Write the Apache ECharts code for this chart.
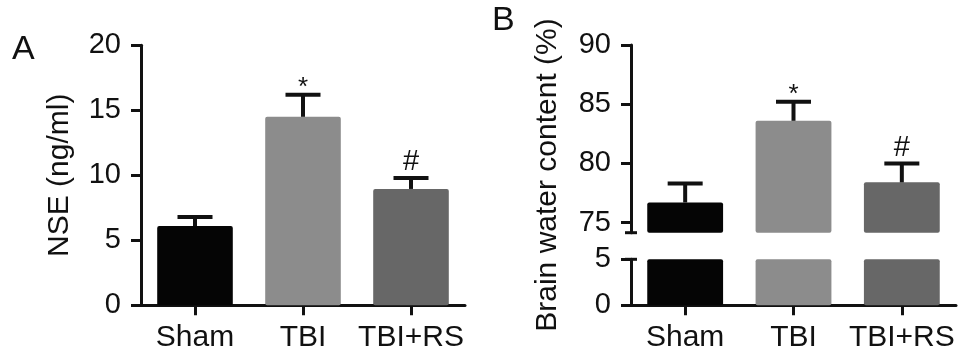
<!DOCTYPE html>
<html>
<head>
<meta charset="utf-8">
<script src="https://cdn.jsdelivr.net/npm/echarts@6/dist/echarts.min.js"></script>
<style>
html,body{margin:0;padding:0;background:#fff;}
#chart{width:969px;height:359px;}
</style>
</head>
<body>
<div id="chart"></div>
<script>
// ---- data ----
const categories = ['Sham', 'TBI', 'TBI+RS'];
const nseValues = [6.1, 14.5, 8.95];
const nseErrors = [0.7, 1.7, 0.85];
const nseMarks = ['', '*', '#'];
const nseTicks = [0, 5, 10, 15, 20];

const waterValues = [76.7, 83.6, 78.4];
const waterErrors = [1.6, 1.6, 1.6];
const waterMarks = ['', '*', '#'];
const waterUpperTicks = [75, 80, 85, 90];
const waterLowerTicks = [0, 5];
const waterUpperMin = 74.15;
const waterLowerMax = 5;

const barColors = ['#050505', '#8c8c8c', '#676767'];

// ---- style ----
const FONT = '"Liberation Sans", Arial, Helvetica, sans-serif';
const INK = '#111';
const AXW = 3;

function errorRenderer(marks) {
  return function (params, api) {
    const i = api.value(0), v = api.value(1), e = api.value(2);
    const base = api.coord([i, v]);
    const top = api.coord([i, v + e]);
    const half = 17.5;
    const mark = marks[params.dataIndex];
    const children = [
      { type: 'line', shape: { x1: top[0], y1: base[1], x2: top[0], y2: top[1] }, style: { stroke: INK, lineWidth: 4 } },
      { type: 'line', shape: { x1: top[0] - half, y1: top[1], x2: top[0] + half, y2: top[1] }, style: { stroke: INK, lineWidth: 4 } }
    ];
    if (mark) {
      const isStar = mark === '*';
      children.push({
        type: 'text',
        style: {
          text: mark, x: top[0], y: top[1] + (isStar ? 6 : -1),
          align: 'center', verticalAlign: 'bottom',
          fontSize: isStar ? 26 : 29, fontFamily: FONT, fill: INK
        }
      });
    }
    return { type: 'group', children };
  };
}

function catAxis(gridIndex, show) {
  return {
    type: 'category', gridIndex, data: categories, boundaryGap: true,
    show: show,
    axisLine: { show: true, lineStyle: { color: INK, width: AXW } },
    axisTick: { show: true, alignWithLabel: true, length: 10, lineStyle: { color: INK, width: AXW } },
    axisLabel: { show: true, interval: 0, fontSize: 30, fontFamily: FONT, color: INK, margin: 17 },
    splitLine: { show: false }
  };
}

function valAxis(gridIndex, min, max, ticks, extra) {
  return Object.assign({
    type: 'value', gridIndex, min, max,
    axisLine: { show: true, lineStyle: { color: INK, width: AXW } },
    axisTick: { show: true, length: 10, customValues: ticks, lineStyle: { color: INK, width: AXW } },
    axisLabel: { fontSize: 29, fontFamily: FONT, color: INK, margin: 20, customValues: ticks },
    splitLine: { show: false }
  }, extra || {});
}

const chart = echarts.init(document.getElementById('chart'), null, { renderer: 'canvas' });

const grids = [
  { left: 141, top: 45.3, width: 324, height: 260 },
  { left: 631, top: 45, width: 325, height: 187.7 },
  { left: 631, top: 259.3, width: 325, height: 46 }
];

function barSeries(xi, yi, values) {
  return {
    type: 'bar', xAxisIndex: xi, yAxisIndex: yi, barWidth: '70%', clip: true,
    data: values.map((v, i) => ({ value: v, itemStyle: { color: barColors[i], borderRadius: 2 } })),
    silent: true, animation: false
  };
}
function errSeries(xi, yi, values, errors, marks) {
  return {
    type: 'custom', xAxisIndex: xi, yAxisIndex: yi, clip: false,
    renderItem: errorRenderer(marks),
    data: values.map((v, i) => [i, v, errors[i]]),
    silent: true, animation: false, z: 5
  };
}

const option = {
  backgroundColor: '#fff',
  animation: false,
  grid: grids,
  xAxis: [catAxis(0, true), catAxis(1, false), catAxis(2, true)],
  yAxis: [
    valAxis(0, nseTicks[0], nseTicks[nseTicks.length - 1], nseTicks, {
      name: 'NSE (ng/ml)', nameLocation: 'middle', nameGap: 66,
      nameTextStyle: { fontSize: 30, fontFamily: FONT, color: INK }
    }),
    valAxis(1, waterUpperMin, waterUpperTicks[waterUpperTicks.length - 1], waterUpperTicks),
    valAxis(2, 0, waterLowerMax, waterLowerTicks)
  ],
  series: [
    barSeries(0, 0, nseValues),
    errSeries(0, 0, nseValues, nseErrors, nseMarks),
    barSeries(1, 1, waterValues),
    errSeries(1, 1, waterValues, waterErrors, waterMarks),
    barSeries(2, 2, waterValues)
  ],
  graphic: [
    { type: 'text', left: 12, top: 33, style: { text: 'A', fontSize: 34, fontFamily: FONT, fill: INK } },
    { type: 'text', left: 492, top: 4, style: { text: 'B', fontSize: 34, fontFamily: FONT, fill: INK } },
    { type: 'text', x: 548, y: 175, rotation: Math.PI / 2,
      style: { text: 'Brain water content (%)', fontSize: 30, fontFamily: FONT, fill: INK, align: 'center', verticalAlign: 'middle' } }
  ]
};
chart.setOption(option);

// axis break caps drawn at the ends of the two axis segments
const axisX = grids[1].left;
const yBreakTop = chart.convertToPixel({ yAxisIndex: 1 }, waterUpperMin);
const yBreakBottom = chart.convertToPixel({ yAxisIndex: 2 }, waterLowerMax);
chart.setOption({
  graphic: option.graphic.concat([
    { type: 'line', shape: { x1: axisX - 6, y1: yBreakTop, x2: axisX + 6, y2: yBreakTop }, style: { stroke: INK, lineWidth: AXW } },
    { type: 'line', shape: { x1: axisX - 6, y1: yBreakBottom, x2: axisX + 6, y2: yBreakBottom }, style: { stroke: INK, lineWidth: AXW } }
  ])
});
</script>
</body>
</html>
